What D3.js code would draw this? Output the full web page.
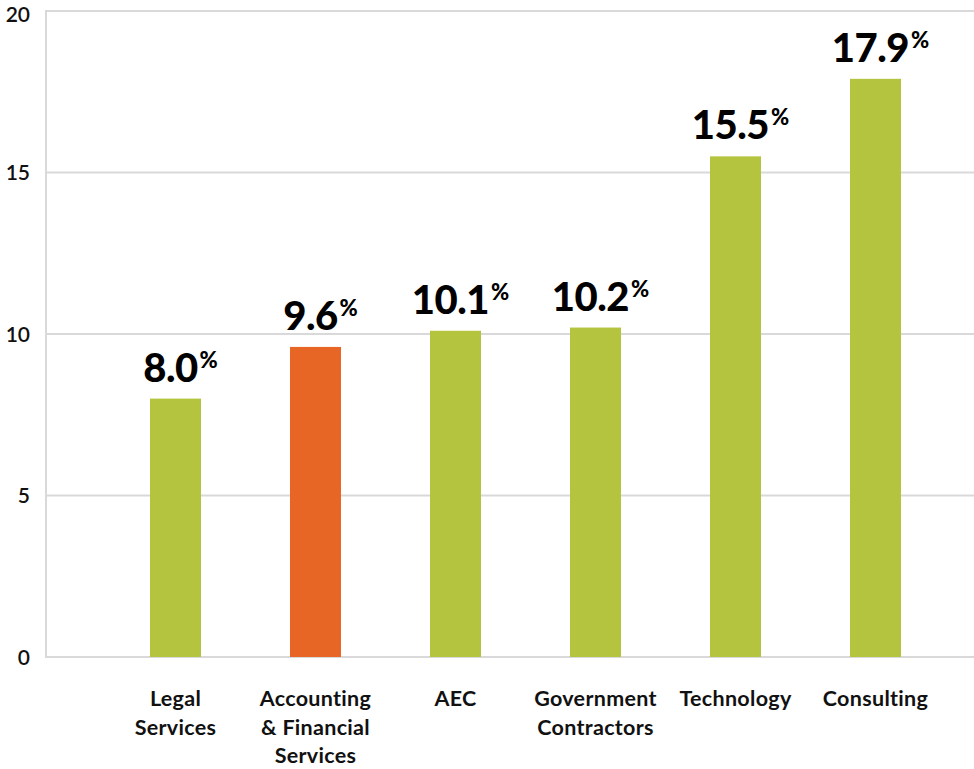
<!DOCTYPE html>
<html>
<head>
<meta charset="utf-8">
<script src="https://cdn.jsdelivr.net/npm/d3@7"></script>
<style>
  html, body { margin: 0; padding: 0; background: #fff; }
  svg { display: block; }
</style>
</head>
<body>
<svg id="chart" width="974" height="769"></svg>
<script>
// Industry categories, each label broken into display lines
const categories = ["Legal Services", "Accounting & Financial Services", "AEC", "Government Contractors", "Technology", "Consulting"];
const categoryLines = [["Legal", "Services"], ["Accounting", "& Financial", "Services"], ["AEC"], ["Government", "Contractors"], ["Technology"], ["Consulting"]];
const values = [8.0, 9.6, 10.1, 10.2, 15.5, 17.9];
const highlighted = ["Accounting & Financial Services"];
const yTicks = [0, 5, 10, 15, 20];

const GREEN = "#b5c43e";
const ORANGE = "#e76626";
const GRID = "#d9d9d9";
const FONT = "Lato, 'Open Sans', sans-serif";

const svg = d3.select("#chart");

const x = d3.scaleBand()
  .domain(categories)
  .range([105.5, 945.5])
  .paddingInner(1 - 51 / 140)
  .paddingOuter((1 - 51 / 140) / 2);

const y = d3.scaleLinear().domain([0, 20]).range([657, 11]);

// Horizontal gridlines
svg.append("g")
  .selectAll("line")
  .data(yTicks)
  .join("line")
  .attr("x1", 46)
  .attr("x2", 974)
  .attr("y1", d => y(d))
  .attr("y2", d => y(d))
  .attr("stroke", GRID)
  .attr("stroke-width", 2);

// Left axis line
svg.append("line")
  .attr("x1", 46).attr("x2", 46)
  .attr("y1", y(20) - 1).attr("y2", y(0) + 1)
  .attr("stroke", GRID)
  .attr("stroke-width", 2);

// Y tick labels (kept inside the top edge)
svg.append("g")
  .selectAll("text")
  .data(yTicks)
  .join("text")
  .attr("x", 30)
  .attr("y", d => Math.max(y(d), 14))
  .attr("dy", "0.36em")
  .attr("text-anchor", "end")
  .attr("font-family", FONT)
  .attr("font-size", 21)
  .attr("font-weight", 600)
  .attr("fill", "#111")
  .text(d => d);

// Bars
svg.append("g")
  .selectAll("rect")
  .data(categories)
  .join("rect")
  .attr("x", d => x(d))
  .attr("width", x.bandwidth())
  .attr("y", (d, i) => y(values[i]))
  .attr("height", (d, i) => y(0) - y(values[i]))
  .attr("fill", d => highlighted.includes(d) ? ORANGE : GREEN);

// Value labels with a smaller raised percent sign
const vl = svg.append("g")
  .selectAll("text")
  .data(categories)
  .join("text")
  .attr("x", d => x(d) + x.bandwidth() / 2 + 5)
  .attr("y", (d, i) => y(values[i]) - 17)
  .attr("text-anchor", "middle")
  .attr("font-family", FONT)
  .attr("font-weight", 900)
  .attr("fill", "#000");
vl.append("tspan")
  .attr("font-size", 40)
  .attr("letter-spacing", -0.5)
  .text((d, i) => values[i].toFixed(1));
vl.append("tspan")
  .attr("font-size", 22)
  .attr("dy", -14)
  .attr("dx", 2)
  .text("%");

// Category labels
svg.append("g")
  .selectAll("text")
  .data(categories)
  .join("text")
  .attr("x", d => x(d) + x.bandwidth() / 2)
  .attr("y", 706)
  .attr("text-anchor", "middle")
  .attr("font-family", FONT)
  .attr("font-size", 21.5)
  .attr("font-weight", 700)
  .attr("letter-spacing", 0.3)
  .attr("fill", "#111")
  .selectAll("tspan")
  .data((d, i) => categoryLines[i])
  .join("tspan")
  .attr("x", function () { return this.parentNode.getAttribute("x"); })
  .attr("dy", (d, j) => j === 0 ? 0 : 28.5)
  .text(d => d);
</script>
</body>
</html>
